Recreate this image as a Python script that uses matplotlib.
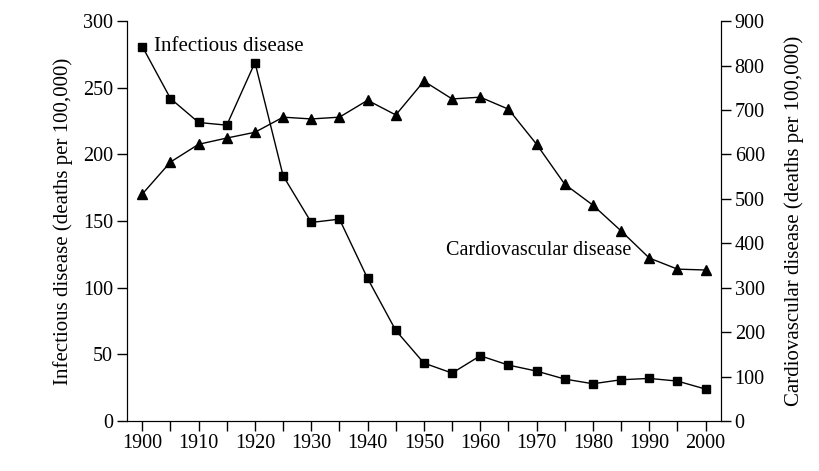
import matplotlib.pyplot as plt
import numpy as np

plt.rcParams['font.family'] = ['Liberation Serif', 'DejaVu Serif']

years = list(range(1900, 2001, 5))
infectious = [281, 242, 224, 222, 269, 184, 149, 151.5, 107, 68, 43.5, 36,
              49, 42, 37.5, 31.5, 28, 31, 32, 30, 24]
cardio = [511, 583, 623, 637, 650, 684, 680, 684, 722, 689, 765, 725,
          729, 702, 623, 533, 486, 428, 367, 342, 340]

fig = plt.figure(figsize=(8.2, 4.71), dpi=100)
ax = fig.add_axes([0.155, 0.106, 0.724, 0.849])
ax2 = ax.twinx()

ax.plot(years, infectious, color='black', lw=1, marker='s', ms=5.5, zorder=3)
ax2.plot(years, cardio, color='black', lw=1, marker='^', ms=6.5, zorder=3)

ax.set_xlim(1897.3, 2002.7)
ax.set_ylim(0, 300)
ax2.set_ylim(0, 900)
ax.set_xticks(range(1900, 2001, 10))
ax.set_xticks(range(1905, 2000, 10), minor=True)
ax.set_yticks(range(0, 301, 50))
ax2.set_yticks(range(0, 901, 100))

for a in (ax, ax2):
    a.spines['top'].set_visible(False)
    a.tick_params(labelsize=14.5, width=1, length=7, direction='out', color='black')
ax.tick_params(axis='x', which='minor', length=7, width=1)
ax.tick_params(axis='x', pad=2)
ax.tick_params(axis='y', pad=3)
ax2.tick_params(axis='y', pad=3)

ax.set_ylabel('Infectious disease (deaths per 100,000)', fontsize=15, labelpad=7)
ax2.set_ylabel('Cardiovascular disease (deaths per 100,000)', fontsize=15, labelpad=14)

ax.text(1902, 281, 'Infectious disease', fontsize=15, va='center', ha='left')
ax.text(1954, 128, 'Cardiovascular disease', fontsize=14.5, va='center', ha='left')

fig.savefig('out.png', dpi=100)
